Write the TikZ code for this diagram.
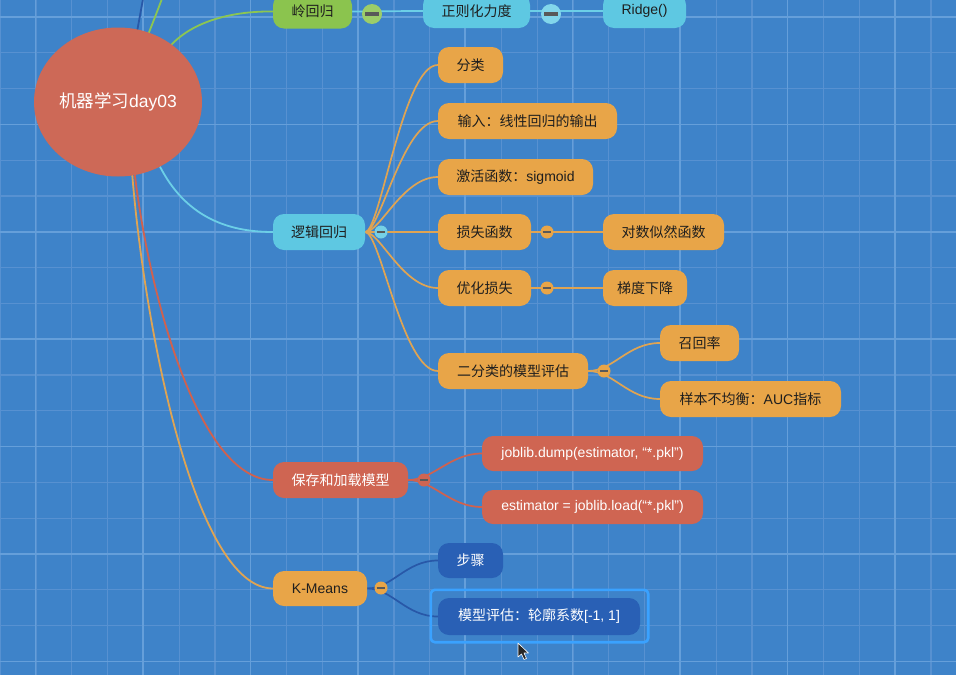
\documentclass[tikz,border=0pt]{standalone}
\usepackage{fontspec}
\setmainfont{Liberation Sans}
\newfontfamily\cjk{Noto Sans CJK SC}
\usetikzlibrary{shapes.geometric}
\definecolor{bgblue}{HTML}{3E83C9}
\definecolor{gridminor}{HTML}{5791D1}
\definecolor{gridmajor}{HTML}{659FDA}
\definecolor{rootred}{HTML}{CD6957}
\definecolor{ngreen}{HTML}{8BC44E}
\definecolor{ncyan}{HTML}{5EC8E2}
\definecolor{norange}{HTML}{E8A548}
\definecolor{nred}{HTML}{CF6552}
\definecolor{ndblue}{HTML}{2960B5}
\definecolor{lcyan}{HTML}{6CCFE7}
\definecolor{lorange}{HTML}{DFA453}
\definecolor{lred}{HTML}{D0614E}
\definecolor{ldblue}{HTML}{2858A8}
\definecolor{lgreen}{HTML}{8CC652}
\definecolor{seltone}{HTML}{3AA2FF}
\definecolor{txt}{HTML}{1E1E1E}
\pgfdeclarelayer{bg}
\pgfdeclarelayer{edges}
\pgfsetlayers{bg,edges,main}
\tikzset{
  box/.style={rounded corners=11pt, minimum height=36pt, inner sep=0pt,
    font=\fontsize{14pt}{17pt}\selectfont, text=txt, anchor=center},
  gbox/.style={box, fill=ngreen},
  cbox/.style={box, fill=ncyan},
  obox/.style={box, fill=norange},
  rbox/.style={box, fill=nred, text=white},
  dbox/.style={box, fill=ndblue, text=white},
  collapse/.style 2 args={circle, fill=#1, inner sep=0pt, minimum size=#2,
    path picture={\draw[line width=0.16*#2, color=black!65]
      ([xshift=-0.33*#2]path picture bounding box.center) --
      ([xshift=0.33*#2]path picture bounding box.center);}},
  edge/.style={line width=1.7pt, line cap=round},
  rootedge/.style={line width=1.8pt, line cap=round},
}
\begin{document}
\begin{tikzpicture}[x=1pt,y=-1pt]
\useasboundingbox (0,0) rectangle (956,675);
\clip (0,0) rectangle (956,675);
\begin{pgfonlayer}{bg}
  \fill[bgblue] (0,0) rectangle (956,675);
  \foreach \i in {0,...,26} {\draw[gridminor, line width=1.2pt] ({0.2+35.8*\i},0) -- ({0.2+35.8*\i},675);}
  \foreach \j in {0,...,18} {\draw[gridminor, line width=1.2pt] (0,{17+35.8*\j}) -- (956,{17+35.8*\j});}
  \foreach \i in {0,...,8} {\draw[gridmajor, line width=1.5pt] ({35.6+107.4*\i},0) -- ({35.6+107.4*\i},675);}
  \foreach \j in {0,...,6} {\draw[gridmajor, line width=1.5pt] (0,{17+107.4*\j}) -- (956,{17+107.4*\j});}
\end{pgfonlayer}

% root
\node[ellipse, fill=rootred, minimum width=168pt, minimum height=149pt, inner sep=0pt,
  text=white, font=\fontsize{17.5pt}{20pt}\selectfont] (root) at (118,102) {{\cjk 机器学习}day03};

% ridge branch
\node[gbox, minimum width=79pt, minimum height=34pt] (lingh) at (312.5,11.5) {{\cjk 岭回归}};
\node[cbox, minimum width=107pt, minimum height=34pt] (zz) at (476.5,11) {{\cjk 正则化力度}};
\node[cbox, minimum width=83pt, minimum height=34pt] (ridge) at (644.5,11) {Ridge()};
\node[collapse={ngreen!85!white}{20pt}] (c1) at (372,14) {};
\node[collapse={lcyan!85!white}{20pt}] (c2) at (551,14) {};

% logistic regression branch
\node[cbox, minimum width=92pt] (luoji) at (319,232) {{\cjk 逻辑回归}};
\node[obox, minimum width=65pt] (fenlei) at (470.5,65) {{\cjk 分类}};
\node[obox, minimum width=179pt] (shuru) at (527.5,121) {{\cjk 输入：线性回归的输出}};
\node[obox, minimum width=155pt] (jihuo) at (515.5,177) {{\cjk 激活函数：}sigmoid};
\node[obox, minimum width=93pt] (sunshi) at (484.5,232) {{\cjk 损失函数}};
\node[obox, minimum width=121pt] (duishu) at (663.5,232) {{\cjk 对数似然函数}};
\node[obox, minimum width=93pt] (youhua) at (484.5,288) {{\cjk 优化损失}};
\node[obox, minimum width=84pt] (tidu) at (645,288) {{\cjk 梯度下降}};
\node[obox, minimum width=150pt] (erfen) at (513,371) {{\cjk 二分类的模型评估}};
\node[obox, minimum width=79pt] (zhaohui) at (699.5,343) {{\cjk 召回率}};
\node[obox, minimum width=181pt] (yangben) at (750.5,399) {{\cjk 样本不均衡：}AUC{\cjk 指标}};
\node[collapse={ncyan!85!white}{13pt}] (c3) at (381,232) {};
\node[collapse={norange}{13pt}] (c4) at (547,232) {};
\node[collapse={norange}{13pt}] (c5) at (547,288) {};
\node[collapse={norange}{13pt}] (c6) at (604,371) {};

% save/load branch
\node[rbox, minimum width=135pt] (baocun) at (340.5,480) {{\cjk 保存和加载模型}};
\node[rbox, minimum width=221pt, minimum height=35pt] (dump) at (592.5,453.5) {joblib.dump(estimator, “*.pkl”)};
\node[rbox, minimum width=221pt, minimum height=34pt] (load) at (592.5,507) {estimator = joblib.load(“*.pkl”)};
\node[collapse={nred}{13pt}] (c7) at (424,480) {};

% K-Means branch
\node[obox, minimum width=94pt, minimum height=35pt] (kmeans) at (320,588.5) {K-Means};
\node[dbox, minimum width=65pt, minimum height=35pt] (buzhou) at (470.5,560.5) {{\cjk 步骤}};
\node[dbox, minimum width=202pt, minimum height=37pt] (mxpg) at (539,616.5) {{\cjk 模型评估：轮廓系数}[-1, 1]};
\node[collapse={norange}{13pt}] (c8) at (381,588) {};
\draw[seltone, line width=2.6pt, rounded corners=4pt]
  ([shift={(-7,-8)}]mxpg.north west) rectangle ([shift={(8,7)}]mxpg.south east);

% off-picture ends of the upper branches
\coordinate (topblue) at (145,-12);
\coordinate (topgreen) at (166,-12);

\begin{pgfonlayer}{edges}
  \draw[rootedge, ldblue] (root.75) .. controls (141,8) .. (topblue);
  \draw[rootedge, lgreen] (root.66) .. controls (157,12) .. (topgreen);
  \draw[rootedge, lgreen] (root.47) .. controls (195,20) and (235,11) .. (lingh.west);
  \draw[rootedge, lcyan] (root.-57) .. controls (185,215) and (225,232) .. (luoji.west);
  \draw[rootedge, lred] (root.-77) .. controls (150,300) and (200,480) .. (baocun.west);
  \draw[rootedge, lorange] (root.-79) .. controls (145,330) and (195,588) .. (kmeans.west);

  \draw[edge, lcyan] (lingh.east) .. controls +(30,0) and +(-30,0) .. (zz.west);
  \draw[edge, lcyan] (zz.east) .. controls +(30,0) and +(-30,0) .. (ridge.west);

  \foreach \k in {fenlei,shuru,jihuo,sunshi,youhua,erfen}
    {\draw[edge, lorange] (luoji.east) .. controls +(15,0) and +(-35,0) .. (\k.west);}
  \draw[edge, lorange] (sunshi.east) -- (duishu.west);
  \draw[edge, lorange] (youhua.east) -- (tidu.west);
  \draw[edge, lorange] (erfen.east) .. controls +(25,0) and +(-32,0) .. (zhaohui.west);
  \draw[edge, lorange] (erfen.east) .. controls +(25,0) and +(-32,0) .. (yangben.west);

  \draw[edge, lred] (baocun.east) .. controls +(25,0) and +(-32,0) .. (dump.west);
  \draw[edge, lred] (baocun.east) .. controls +(25,0) and +(-32,0) .. (load.west);

  \draw[edge, ldblue] (kmeans.east) .. controls +(25,0) and +(-32,0) .. (buzhou.west);
  \draw[edge, ldblue] (kmeans.east) .. controls +(25,0) and +(-32,0) .. (mxpg.west);
\end{pgfonlayer}

% mouse pointer
\fill[black!85, draw=white, line width=0.6pt, line join=round]
  (518,643) -- (518,657) -- (521.5,654) -- (524,659.5) -- (526.5,658.5) -- (524,653) -- (528.5,653) -- cycle;
\end{tikzpicture}
\end{document}
